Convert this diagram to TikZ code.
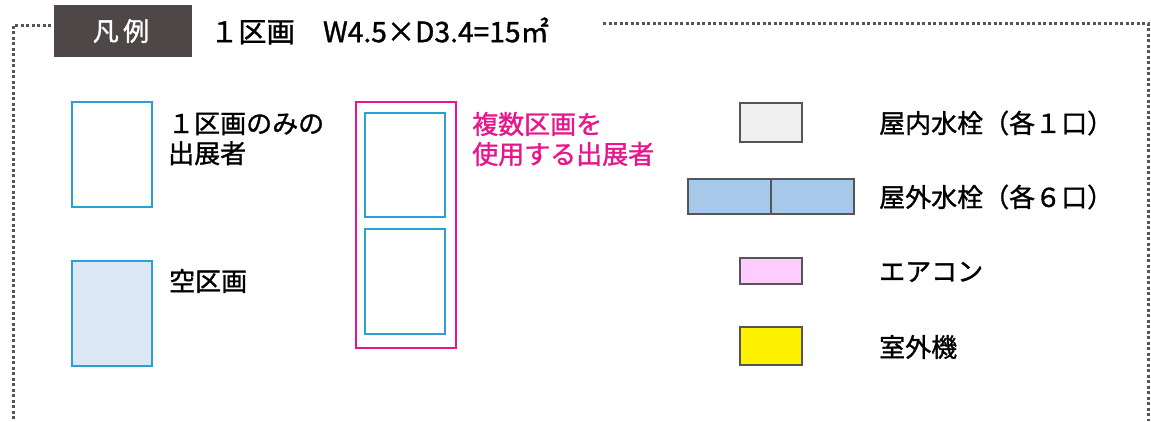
\documentclass[tikz,border=0pt]{standalone}
\usepackage{fontspec}
\setmainfont{Noto Sans CJK JP}
\newfontfamily\jpfont[FakeBold=1.2]{Noto Sans CJK JP}
\definecolor{blueline}{HTML}{29A0D8}
\definecolor{emptyfill}{HTML}{DCE9F5}
\definecolor{pinkline}{HTML}{E8168C}
\definecolor{darkbox}{HTML}{4D4847}
\definecolor{grayline}{HTML}{555555}
\definecolor{indoorfill}{HTML}{F0F0F0}
\definecolor{outdoorfill}{HTML}{A6C9EA}
\definecolor{acfill}{HTML}{FFCCFF}
\definecolor{dotcol}{HTML}{555555}
\tikzset{
  lbl/.style={anchor=west, inner sep=0pt, font=\fontsize{26}{30}\selectfont\jpfont, align=left},
  boothbox/.style={draw=blueline, line width=2pt},
  itembox/.style={draw=grayline, line width=2pt},
  frameline/.style={draw=dotcol, line width=3pt, dash pattern=on 3pt off 2.5pt}
}
\begin{document}
\begin{tikzpicture}[x=1pt,y=-1pt]
\useasboundingbox (0,0) rectangle (1151,421);
% dotted frame
\coordinate (f1) at (13,25);
\coordinate (f2) at (51,25);
\coordinate (f3) at (13,421);
\coordinate (f4) at (603,23);
\coordinate (f5) at (1148,23);
\coordinate (f6) at (1148,421);
\draw[frameline] (f2) -- (f1) -- (f3);
\draw[frameline] (f4) -- (f5) -- (f6);
% header
\fill[darkbox] (54,5) rectangle (192,57);
\node[inner sep=0pt, text=white, font=\fontsize{26}{30}\selectfont\jpfont] (hd) at (121,31) {凡\,例};
\node[lbl, font=\fontsize{28.2}{30}\selectfont\jpfont] (title) at (210,31) {１区画　W4.5×D3.4=15㎡};
% single booth
\draw[boothbox] (72,102) rectangle (152,207);
\node[lbl] (t1) at (168,139) {１区画のみの\\出展者};
% empty booth
\draw[boothbox, fill=emptyfill] (72,261) rectangle (152,366);
\node[lbl] (t2) at (169,281) {空区画};
% multi booth
\draw[draw=pinkline, line width=2.6pt] (356,102) rectangle (456,348);
\draw[boothbox] (365,113) rectangle (445,217);
\draw[boothbox] (365,229) rectangle (445,334);
\node[lbl, text=pinkline] (t3) at (472,139) {複数区画を\\使用する出展者};
% right items
\draw[itembox, fill=indoorfill] (740,103) rectangle (802,142);
\node[lbl] (t4) at (879,123) {屋内水栓（各１口）};
\draw[itembox, fill=outdoorfill] (688,179) rectangle (854,214);
\draw[itembox] (771,179) -- (771,214);
\node[lbl] (t5) at (879,197) {屋外水栓（各６口）};
\draw[itembox, fill=acfill] (740,258) rectangle (802,284);
\node[lbl] (t6) at (879,272) {エアコン};
\draw[itembox, fill=yellow] (740,327) rectangle (802,365);
\node[lbl] (t7) at (879,347) {室外機};
\end{tikzpicture}
\end{document}
